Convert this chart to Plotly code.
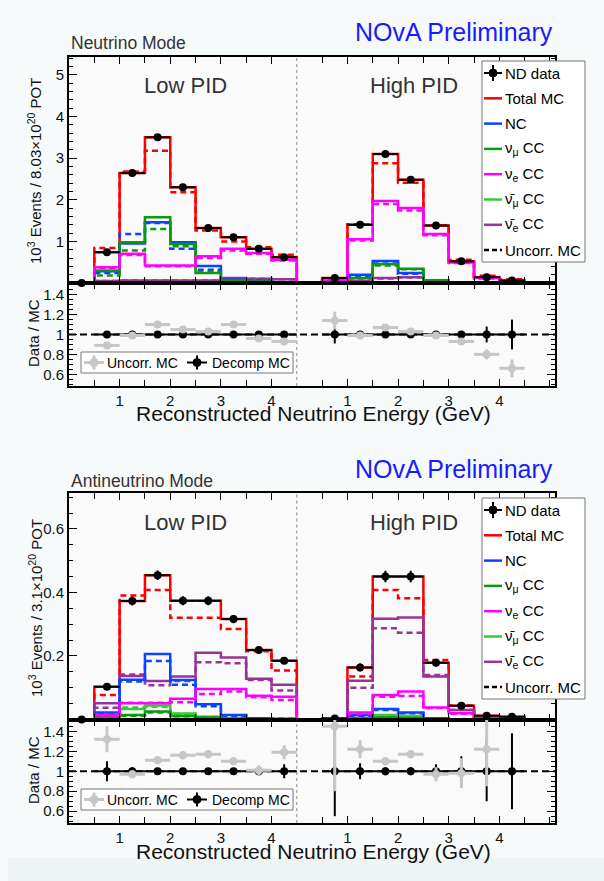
import plotly.graph_objects as go

W, H = 604, 881
FONT = "Liberation Sans"

# ---------------- data ----------------
edges = [0.0, 0.5, 1.0, 1.5, 2.0, 2.5, 3.0, 3.5, 4.0, 4.5]   # GeV, per PID section
centers = [0.25, 0.75, 1.25, 1.75, 2.25, 2.75, 3.25, 3.75, 4.25]
high_offset = 4.5          # High PID section is drawn to the right of Low PID
tick_labels = ["1", "2", "3", "4"]

# ---- Neutrino mode (10^3 events / 8.03e20 POT) ----
nu_low_data    = [0.0, 0.74, 2.64, 3.50, 2.30, 1.32, 1.10, 0.82, 0.62]
nu_low_err     = [0.0, 0.02, 0.03, 0.03, 0.03, 0.02, 0.02, 0.02, 0.02]
nu_low_total   = [None, 0.74, 2.64, 3.50, 2.30, 1.32, 1.10, 0.82, 0.62]
nu_low_total_u = [None, 0.84, 2.68, 3.18, 2.18, 1.26, 1.00, 0.86, 0.68]
nu_low_nc      = [None, 0.28, 0.95, 1.46, 0.98, 0.41, 0.08, 0.04, 0.02]
nu_low_nc_u    = [None, 0.24, 1.18, 1.44, 0.82, 0.32, 0.07, 0.06, 0.02]
nu_low_numu    = [None, 0.30, 0.98, 1.58, 0.94, 0.24, 0.06, 0.03, 0.02]
nu_low_numu_u  = [None, 0.18, 0.78, 1.30, 0.88, 0.27, 0.05, 0.03, 0.02]
nu_low_nue     = [None, 0.38, 0.70, 0.42, 0.42, 0.64, 0.82, 0.72, 0.56]
nu_low_nue_u   = [None, 0.36, 0.67, 0.40, 0.40, 0.60, 0.78, 0.70, 0.54]
nu_low_anumu   = [None, 0.01, 0.01, 0.01, 0.01, 0.01, 0.01, 0.01, 0.01]
nu_low_anumu_u = [None, 0.01, 0.01, 0.01, 0.01, 0.01, 0.01, 0.01, 0.01]
nu_low_anue    = [None, 0.05, 0.06, 0.06, 0.06, 0.06, 0.12, 0.10, 0.09]
nu_low_anue_u  = [None, 0.05, 0.06, 0.06, 0.06, 0.06, 0.11, 0.10, 0.09]

nu_high_data    = [None, 0.12, 1.40, 3.10, 2.48, 1.38, 0.52, 0.14, 0.06]
nu_high_err     = [None, 0.01, 0.02, 0.03, 0.03, 0.02, 0.01, 0.01, 0.01]
nu_high_total   = [None, 0.12, 1.40, 3.10, 2.48, 1.38, 0.52, 0.14, 0.06]
nu_high_total_u = [None, 0.105, 1.41, 2.88, 2.41, 1.39, 0.56, 0.175, 0.09]
nu_high_nc      = [None, 0.03, 0.20, 0.53, 0.24, 0.05, 0.02, 0.01, 0.005]
nu_high_nc_u    = [None, 0.03, 0.17, 0.47, 0.22, 0.05, 0.02, 0.01, 0.005]
nu_high_numu    = [None, 0.02, 0.12, 0.45, 0.34, 0.06, 0.02, 0.01, 0.005]
nu_high_numu_u  = [None, 0.02, 0.11, 0.42, 0.33, 0.06, 0.02, 0.01, 0.005]
nu_high_nue     = [None, 0.06, 1.05, 1.97, 1.80, 1.18, 0.49, 0.12, 0.04]
nu_high_nue_u   = [None, 0.05, 1.02, 1.90, 1.74, 1.15, 0.48, 0.11, 0.04]
nu_high_anumu   = [None, 0.005, 0.01, 0.01, 0.01, 0.005, 0.005, 0.005, 0.005]
nu_high_anumu_u = [None, 0.005, 0.01, 0.01, 0.01, 0.005, 0.005, 0.005, 0.005]
nu_high_anue    = [None, 0.01, 0.05, 0.12, 0.14, 0.06, 0.02, 0.01, 0.005]
nu_high_anue_u  = [None, 0.01, 0.05, 0.11, 0.13, 0.06, 0.02, 0.01, 0.005]

# Data / MC ratios, neutrino mode
nu_low_r_dec      = [None, 1, 1, 1, 1, 1, 1, 1, 1]
nu_low_r_dec_err  = [None, 0.01, 0.01, 0.01, 0.01, 0.01, 0.01, 0.01, 0.01]
nu_low_r_unc      = [None, 0.89, 0.99, 1.10, 1.05, 1.03, 1.10, 0.96, 0.93]
nu_low_r_unc_err  = [None, 0.015, 0.01, 0.01, 0.01, 0.015, 0.015, 0.015, 0.02]
nu_high_r_dec     = [None, 1, 1, 1, 1, 1, 1, 1, 1]
nu_high_r_dec_err = [None, 0.09, 0.01, 0.015, 0.015, 0.015, 0.03, 0.08, 0.15]
nu_high_r_unc     = [None, 1.14, 0.99, 1.07, 1.03, 0.99, 0.93, 0.80, 0.66]
nu_high_r_unc_err = [None, 0.09, 0.01, 0.015, 0.015, 0.015, 0.03, 0.05, 0.09]

# ---- Antineutrino mode (10^3 events / 3.1e20 POT) ----
an_low_data    = [0.0, 0.103, 0.373, 0.454, 0.374, 0.374, 0.316, 0.219, 0.185]
an_low_err     = [0.0, 0.009, 0.014, 0.015, 0.014, 0.014, 0.013, 0.011, 0.010]
an_low_total   = [None, 0.103, 0.373, 0.454, 0.374, 0.374, 0.316, 0.219, 0.185]
an_low_total_u = [None, 0.077, 0.390, 0.408, 0.320, 0.320, 0.285, 0.215, 0.154]
an_low_nc      = [None, 0.022, 0.125, 0.206, 0.124, 0.048, 0.014, 0.004, 0.002]
an_low_nc_u    = [None, 0.020, 0.120, 0.184, 0.109, 0.042, 0.012, 0.003, 0.002]
an_low_numu    = [None, 0.006, 0.014, 0.025, 0.011, 0.006, 0.002, 0.001, 0.001]
an_low_numu_u  = [None, 0.005, 0.012, 0.022, 0.010, 0.005, 0.002, 0.001, 0.001]
an_low_nue     = [None, 0.014, 0.051, 0.051, 0.065, 0.096, 0.096, 0.075, 0.072]
an_low_nue_u   = [None, 0.012, 0.053, 0.053, 0.054, 0.080, 0.088, 0.070, 0.061]
an_low_anumu   = [None, 0.009, 0.033, 0.044, 0.019, 0.009, 0.003, 0.001, 0.001]
an_low_anumu_u = [None, 0.008, 0.038, 0.040, 0.017, 0.008, 0.003, 0.001, 0.001]
an_low_anue    = [None, 0.051, 0.137, 0.121, 0.135, 0.210, 0.195, 0.128, 0.109]
an_low_anue_u  = [None, 0.037, 0.142, 0.108, 0.121, 0.180, 0.177, 0.124, 0.091]

an_high_data    = [None, 0.003, 0.164, 0.450, 0.450, 0.179, 0.043, 0.012, 0.009]
an_high_err     = [None, 0.002, 0.012, 0.018, 0.018, 0.011, 0.006, 0.003, 0.003]
an_high_total   = [None, 0.003, 0.164, 0.450, 0.450, 0.179, 0.043, 0.012, 0.009]
an_high_total_u = [None, 0.002, 0.135, 0.408, 0.382, 0.187, 0.044, 0.010, 0.006]
an_high_nc      = [None, 0.001, 0.014, 0.033, 0.022, 0.004, 0.001, 0.0, 0.0]
an_high_nc_u    = [None, 0.001, 0.012, 0.030, 0.020, 0.004, 0.001, 0.0, 0.0]
an_high_numu    = [None, 0.0, 0.003, 0.006, 0.005, 0.001, 0.0, 0.0, 0.0]
an_high_numu_u  = [None, 0.0, 0.003, 0.005, 0.004, 0.001, 0.0, 0.0, 0.0]
an_high_nue     = [None, 0.001, 0.022, 0.077, 0.088, 0.038, 0.020, 0.003, 0.002]
an_high_nue_u   = [None, 0.001, 0.018, 0.072, 0.074, 0.036, 0.018, 0.003, 0.002]
an_high_anumu   = [None, 0.0, 0.005, 0.014, 0.011, 0.002, 0.001, 0.0, 0.0]
an_high_anumu_u = [None, 0.0, 0.005, 0.012, 0.010, 0.002, 0.001, 0.0, 0.0]
an_high_anue    = [None, 0.001, 0.122, 0.317, 0.321, 0.135, 0.030, 0.008, 0.006]
an_high_anue_u  = [None, 0.001, 0.100, 0.287, 0.273, 0.140, 0.030, 0.007, 0.004]

an_low_r_dec      = [None, 1, 1, 1, 1, 1, 1, 1, 1]
an_low_r_dec_err  = [None, 0.10, 0.04, 0.03, 0.03, 0.03, 0.03, 0.04, 0.07]
an_low_r_unc      = [None, 1.32, 0.97, 1.11, 1.16, 1.17, 1.10, 1.01, 1.19]
an_low_r_unc_err  = [None, 0.13, 0.04, 0.04, 0.04, 0.04, 0.04, 0.05, 0.07]
an_high_r_dec     = [None, 1, 1, 1, 1, 1, 1, 1, 1]
an_high_r_dec_err = [None, 0.45, 0.08, 0.04, 0.04, 0.07, 0.15, 0.30, 0.38]
an_high_r_unc     = [None, 1.45, 1.22, 1.10, 1.17, 0.97, 0.98, 1.22, None]
an_high_r_unc_err = [None, 0.65, 0.09, 0.04, 0.04, 0.07, 0.15, 0.37, None]

# ---------------- styling ----------------
RED, BLUE, GREEN = "#ff0000", "#0b44ff", "#0a9a0a"
MAGENTA, LGREEN, PURPLE = "#ff00ff", "#33cc33", "#993399"
GRAYR = "#c6c6c6"
LW = 2.5
DASH = "6px,4px"

XD = [69 / W, 555 / W]
def ydom(top_px, bot_px):
    return [1 - bot_px / H, 1 - top_px / H]

def step_xy(vals, offset):
    xs, ys = [], []
    last_i = None
    for i, v in enumerate(vals):
        if v is None:
            continue
        lo = edges[i] + offset
        if not xs:
            xs.append(lo); ys.append(0)
        xs.append(lo); ys.append(v)
        last_i = i
    hi = edges[last_i + 1] + offset
    xs += [hi, hi]; ys += [vals[last_i], 0]
    return xs, ys

def hist_trace(low, high, color, dashed, xa, ya):
    x1, y1 = step_xy(low, 0.0)
    x2, y2 = step_xy(high, high_offset)
    return go.Scatter(x=x1 + [None] + x2, y=y1 + [None] + y2, mode="lines",
                      line=dict(color=color, width=LW, shape="hv",
                                dash=DASH if dashed else "solid"),
                      xaxis=xa, yaxis=ya, showlegend=False, hoverinfo="skip")

def points_trace(low, lowerr, high, higherr, xa, ya, color, size, thick, clip=True):
    xs, ys, es = [], [], []
    for off, vals, errs in ((0.0, low, lowerr), (high_offset, high, higherr)):
        for c, v, e in zip(centers, vals, errs):
            if v is None:
                continue
            xs.append(c + off); ys.append(v); es.append(e)
    return go.Scatter(x=xs, y=ys, mode="markers",
                      marker=dict(color=color, size=size, symbol="circle"),
                      error_x=dict(type="constant", value=0.25, color=color,
                                   thickness=thick, width=0),
                      error_y=dict(type="data", array=es, color=color,
                                   thickness=thick, width=0),
                      xaxis=xa, yaxis=ya, showlegend=False, hoverinfo="skip",
                      cliponaxis=clip)

fig = go.Figure()

def add_mode(xa, ya, xr, yr, d):
    comps = [
        (d["total"], d["total_u"], RED),
        (d["anue"], d["anue_u"], PURPLE),
        (d["anumu"], d["anumu_u"], LGREEN),
        (d["nc"], d["nc_u"], BLUE),
        (d["numu"], d["numu_u"], GREEN),
        (d["nue"], d["nue_u"], MAGENTA),
    ]
    for (solid, dashed, col) in comps:
        fig.add_trace(hist_trace(solid[0], solid[1], col, False, xa, ya))
        fig.add_trace(hist_trace(dashed[0], dashed[1], col, True, xa, ya))
    fig.add_trace(points_trace(d["data"][0], d["err"][0], d["data"][1], d["err"][1],
                               xa, ya, "black", 8, 2, clip=False))
    fig.add_trace(points_trace(d["rdec"][0], d["rdec"][1], d["rdec"][2], d["rdec"][3],
                               xr, yr, "black", 8, 2))
    fig.add_trace(points_trace(d["runc"][0], d["runc"][1], d["runc"][2], d["runc"][3],
                               xr, yr, GRAYR, 8, 3))

add_mode("x", "y", "x2", "y2", dict(
    total=(nu_low_total, nu_high_total), total_u=(nu_low_total_u, nu_high_total_u),
    nc=(nu_low_nc, nu_high_nc), nc_u=(nu_low_nc_u, nu_high_nc_u),
    numu=(nu_low_numu, nu_high_numu), numu_u=(nu_low_numu_u, nu_high_numu_u),
    nue=(nu_low_nue, nu_high_nue), nue_u=(nu_low_nue_u, nu_high_nue_u),
    anumu=(nu_low_anumu, nu_high_anumu), anumu_u=(nu_low_anumu_u, nu_high_anumu_u),
    anue=(nu_low_anue, nu_high_anue), anue_u=(nu_low_anue_u, nu_high_anue_u),
    data=(nu_low_data, nu_high_data), err=(nu_low_err, nu_high_err),
    rdec=(nu_low_r_dec, nu_low_r_dec_err, nu_high_r_dec, nu_high_r_dec_err),
    runc=(nu_low_r_unc, nu_low_r_unc_err, nu_high_r_unc, nu_high_r_unc_err)))

add_mode("x3", "y3", "x4", "y4", dict(
    total=(an_low_total, an_high_total), total_u=(an_low_total_u, an_high_total_u),
    nc=(an_low_nc, an_high_nc), nc_u=(an_low_nc_u, an_high_nc_u),
    numu=(an_low_numu, an_high_numu), numu_u=(an_low_numu_u, an_high_numu_u),
    nue=(an_low_nue, an_high_nue), nue_u=(an_low_nue_u, an_high_nue_u),
    anumu=(an_low_anumu, an_high_anumu), anumu_u=(an_low_anumu_u, an_high_anumu_u),
    anue=(an_low_anue, an_high_anue), anue_u=(an_low_anue_u, an_high_anue_u),
    data=(an_low_data, an_high_data), err=(an_low_err, an_high_err),
    rdec=(an_low_r_dec, an_low_r_dec_err, an_high_r_dec, an_high_r_dec_err),
    runc=(an_low_r_unc, an_low_r_unc_err, an_high_r_unc, an_high_r_unc_err)))

# ---------------- axes ----------------
major_x = [1, 2, 3, 4] + [high_offset + v for v in (1, 2, 3, 4)]
minor_x = [0.5, 1.5, 2.5, 3.5] + [high_offset + v for v in (0.5, 1.5, 2.5, 3.5, 4.5)] + [9.5]
TICKFONT = dict(family=FONT, size=15, color="#111")

def xaxis(anchor, labels):
    return dict(domain=XD, range=[0, 9.6], anchor=anchor, showline=True, linecolor="black",
                linewidth=2, mirror="ticks", ticks="inside", ticklen=7, tickwidth=1,
                tickcolor="black", tickvals=major_x, ticktext=tick_labels * 2,
                showticklabels=labels, tickfont=TICKFONT, showgrid=False, zeroline=False,
                minor=dict(tickvals=minor_x, ticks="inside", ticklen=6, tickcolor="black"))

def yaxis(anchor, dom, rng, tv, tt, mdt):
    return dict(domain=dom, range=rng, anchor=anchor, showline=True, linecolor="black",
                linewidth=2, mirror="ticks", ticks="inside", ticklen=8, tickwidth=1,
                tickcolor="black", tickvals=tv, ticktext=tt, tickfont=TICKFONT,
                showgrid=False, zeroline=False,
                minor=dict(dtick=mdt, tick0=0, ticks="inside", ticklen=4, tickcolor="black"))

ratio_tv = [0.6, 0.8, 1.0, 1.2, 1.4]
ratio_tt = ["0.6", "0.8", "1", "1.2", "1.4"]
RR = [0.482, 1.518]

fig.update_layout(
    xaxis=xaxis("y", False),
    yaxis=yaxis("x", ydom(57, 283), [0, 5.43], [1, 2, 3, 4, 5], ["1", "2", "3", "4", "5"], 0.2),
    xaxis2=xaxis("y2", True),
    yaxis2=yaxis("x2", ydom(283, 386), RR, ratio_tv, ratio_tt, 0.05),
    xaxis3=xaxis("y3", False),
    yaxis3=yaxis("x3", ydom(493.3, 719.5), [0, 0.712], [0.2, 0.4, 0.6], ["0.2", "0.4", "0.6"], 0.05),
    xaxis4=xaxis("y4", True),
    yaxis4=yaxis("x4", ydom(719.5, 823), RR, ratio_tv, ratio_tt, 0.05),
)

# ---------------- decorations ----------------
shapes = []
annots = []

def px(x): return x / W
def py(y): return 1 - y / H

# background strip at bottom
shapes.append(dict(type="rect", xref="paper", yref="paper", x0=px(8), x1=1, y0=0, y1=py(858),
                   fillcolor="#eef3f3", line=dict(width=0), layer="below"))

for xa, ya in (("x", "y"), ("x2", "y2"), ("x3", "y3"), ("x4", "y4")):
    shapes.append(dict(type="line", xref=xa, yref=ya + " domain", x0=4.5, x1=4.5, y0=0, y1=1,
                       line=dict(color="#888", width=1, dash="dot"), layer="below"))
for xa, ya in (("x2", "y2"), ("x4", "y4")):
    shapes.append(dict(type="line", xref=xa + " domain", yref=ya, x0=0, x1=1, y0=1, y1=1,
                       line=dict(color="black", width=2, dash="7px,4px"), layer="below"))

def text(x, y, s, size, color="#222", anchor="center", angle=0):
    annots.append(dict(x=px(x), y=py(y), xref="paper", yref="paper", text=s, showarrow=False,
                       xanchor=anchor, yanchor="middle", textangle=angle,
                       font=dict(family=FONT, size=size, color=color)))

legend_items = [
    ("ND data", "data", "black"),
    ("Total MC", "line", RED),
    ("NC", "line", BLUE),
    ("ν<sub>μ</sub> CC", "line", GREEN),
    ("ν<sub>e</sub> CC", "line", MAGENTA),
    ("ν̄<sub>μ</sub> CC", "line", LGREEN),
    ("ν̄<sub>e</sub> CC", "line", PURPLE),
    ("Uncorr. MC", "dash", "black"),
]

def legend(top, mode_label, ylabel):
    bottom = top + 201
    shapes.append(dict(type="rect", xref="paper", yref="paper", x0=px(482), x1=px(585),
                       y0=py(bottom), y1=py(top), fillcolor="white",
                       line=dict(color="#777", width=1), layer="above"))
    for i, (lab, kind, col) in enumerate(legend_items):
        yy = top + 12 + 25.3 * i
        if kind == "data":
            shapes.append(dict(type="line", xref="paper", yref="paper", x0=px(484), x1=px(502),
                               y0=py(yy), y1=py(yy), line=dict(color="black", width=2)))
            shapes.append(dict(type="line", xref="paper", yref="paper", x0=px(493), x1=px(493),
                               y0=py(yy - 8), y1=py(yy + 8), line=dict(color="black", width=2)))
            shapes.append(dict(type="circle", xref="paper", yref="paper", x0=px(489), x1=px(497),
                               y0=py(yy + 4), y1=py(yy - 4), fillcolor="black",
                               line=dict(color="black", width=1)))
        else:
            shapes.append(dict(type="line", xref="paper", yref="paper", x0=px(484), x1=px(502),
                               y0=py(yy), y1=py(yy),
                               line=dict(color=col, width=LW,
                                         dash="5px,3px" if kind == "dash" else "solid")))
        text(503, yy, lab, 15, "black", "left")
    text(69, top - 17.5, mode_label, 17.5, "#333", "left")
    text(454, top - 29, "NOvA Preliminary", 25, "#1a1aff")
    text(185, top + 24, "Low PID", 22, "#333")
    text(414, top + 24, "High PID", 22, "#333")
    text(35, top + 110, ylabel, 15, "#111", "center", -90)

legend(61, "Neutrino Mode", "10<sup>3</sup> Events / 8.03×10<sup>20</sup> POT")
legend(498, "Antineutrino Mode", "10<sup>3</sup> Events / 3.1×10<sup>20</sup> POT")

def ratio_legend(top):
    bot = top + 21
    yy = (top + bot) / 2
    shapes.append(dict(type="rect", xref="paper", yref="paper", x0=px(81), x1=px(293),
                       y0=py(bot), y1=py(top), fillcolor="white",
                       line=dict(color="#777", width=1), layer="above"))
    for cx, col, w, lab, tx in ((94, GRAYR, 3, "Uncorr. MC", 105), (197, "black", 2, "Decomp MC", 210)):
        shapes.append(dict(type="line", xref="paper", yref="paper", x0=px(cx - 10), x1=px(cx + 10),
                           y0=py(yy), y1=py(yy), line=dict(color=col, width=w)))
        shapes.append(dict(type="line", xref="paper", yref="paper", x0=px(cx), x1=px(cx),
                           y0=py(yy - 7), y1=py(yy + 7), line=dict(color=col, width=w)))
        shapes.append(dict(type="circle", xref="paper", yref="paper", x0=px(cx - 4), x1=px(cx + 4),
                           y0=py(yy + 4), y1=py(yy - 4), fillcolor=col, line=dict(color=col, width=1)))
        text(tx, yy, lab, 14, "black", "left")

ratio_legend(352)
ratio_legend(789)

text(33, 333, "Data / MC", 15, "#111", "center", -90)
text(33, 770, "Data / MC", 15, "#111", "center", -90)
text(313, 414, "Reconstructed Neutrino Energy (GeV)", 21, "#111")
text(313, 851, "Reconstructed Neutrino Energy (GeV)", 21, "#111")

fig.update_layout(
    width=W, height=H, margin=dict(l=0, r=0, t=0, b=0),
    paper_bgcolor="#f6fafa", plot_bgcolor="#fafafa",
    showlegend=False, shapes=shapes, annotations=annots,
    font=dict(family=FONT),
)

fig.write_html("out.html")
